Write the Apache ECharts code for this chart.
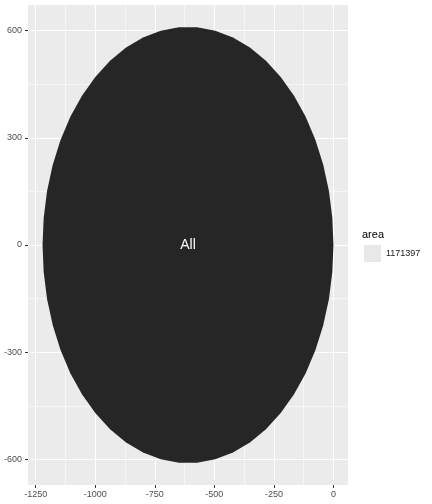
<!DOCTYPE html>
<html>
<head>
<meta charset="utf-8">
<script src="https://cdn.jsdelivr.net/npm/echarts@6/dist/echarts.min.js"></script>
<style>
  html, body { margin: 0; padding: 0; background: #fff; }
  #chart { width: 432px; height: 504px; }
</style>
</head>
<body>
<div id="chart"></div>
<script>
// circle data (packcircles-style layout, one circle)
const circleX = [-610.6];
const circleY = [0];
const circleArea = [1171397];
const circleLabel = ['All'];

// axis breaks
const xTicks = [-1250, -1000, -750, -500, -250, 0];
const xMinor = [-1125, -875, -625, -375, -125];
const yTicks = [-600, -300, 0, 300, 600];
const yMinor = [-450, -150, 150, 450];
const xLimits = [-1282.3, 61.1];
const yLimits = [-671.7, 671.7];

const legendTitle = 'area';

const nVerts = 50;
const font = '"Liberation Sans", Arial, sans-serif';

const chart = echarts.init(document.getElementById('chart'));

function majorAxis(ticks, margin) {
  return {
    type: 'value',
    axisLine: {show: false, onZero: false},
    axisTick: {show: true, length: 3, customValues: ticks, lineStyle: {color: '#333333', width: 1}},
    axisLabel: {
      customValues: ticks, color: '#4d4d4d', fontSize: 9, fontFamily: font, margin: margin,
      formatter: v => String(v)
    },
    splitLine: {show: true, lineStyle: {color: '#ffffff', width: 1.1}}
  };
}

function minorAxis(ticks) {
  return {
    type: 'value',
    axisLine: {show: false, onZero: false},
    axisTick: {show: false, customValues: ticks},
    axisLabel: {show: false, customValues: ticks},
    splitLine: {show: true, lineStyle: {color: '#ffffff', width: 0.55}}
  };
}

chart.setOption({
  animation: false,
  backgroundColor: '#ffffff',
  textStyle: {fontFamily: font},
  grid: {
    left: 28, top: 5, width: 320, height: 480,
    show: true, backgroundColor: '#ebebeb', borderWidth: 0
  },
  title: {
    text: legendTitle,
    left: 362, top: 229,
    padding: 0,
    textStyle: {fontSize: 11, fontWeight: 'normal', color: '#000000', fontFamily: font}
  },
  legend: {
    left: 364, top: 245,
    padding: 0,
    itemWidth: 17, itemHeight: 17,
    itemGap: 6,
    textStyle: {fontSize: 9, color: '#1a1a1a', fontFamily: font},
    data: [{name: String(circleArea[0]), icon: 'rect', itemStyle: {color: '#e8e8e8'}}],
    selectedMode: false
  },
  xAxis: [
    Object.assign(majorAxis(xTicks, 5), {min: xLimits[0], max: xLimits[1], position: 'bottom'}),
    Object.assign(minorAxis(xMinor), {min: xLimits[0], max: xLimits[1], position: 'bottom'})
  ],
  yAxis: [
    Object.assign(majorAxis(yTicks, 6), {min: yLimits[0], max: yLimits[1], position: 'left'}),
    Object.assign(minorAxis(yMinor), {min: yLimits[0], max: yLimits[1], position: 'left'})
  ],
  series: [{
    type: 'custom',
    name: String(circleArea[0]),
    xAxisIndex: 0,
    yAxisIndex: 0,
    itemStyle: {color: '#e8e8e8'},
    data: circleX.map((x, i) => [x, circleY[i], circleArea[i]]),
    renderItem: function (params, api) {
      const cx = api.value(0), cy = api.value(1);
      const r = Math.sqrt(api.value(2) / Math.PI);
      const pts = [];
      for (let k = 0; k < nVerts; k++) {
        const a = 2 * Math.PI * k / nVerts;
        pts.push(api.coord([cx + r * Math.cos(a), cy + r * Math.sin(a)]));
      }
      const c = api.coord([cx, cy]);
      return {
        type: 'group',
        children: [
          {type: 'polygon', shape: {points: pts}, style: {fill: '#262626', stroke: null}},
          {
            type: 'text', x: c[0], y: c[1],
            style: {
              text: circleLabel[params.dataIndex], fill: '#ffffff',
              fontSize: 14, fontFamily: font, align: 'center', verticalAlign: 'middle'
            }
          }
        ]
      };
    }
  }]
});
</script>
</body>
</html>
